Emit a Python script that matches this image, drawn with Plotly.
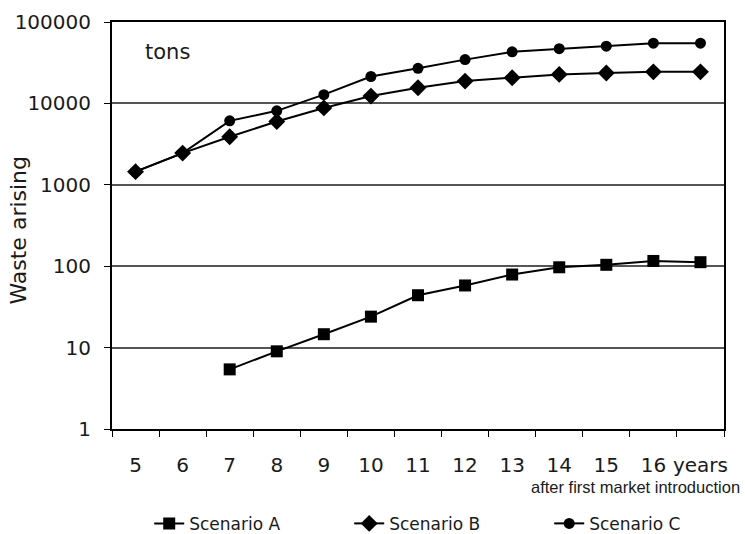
import plotly.graph_objects as go

categories = ["5", "6", "7", "8", "9", "10", "11", "12", "13", "14", "15", "16", "years"]
scenario_a_x = ["7", "8", "9", "10", "11", "12", "13", "14", "15", "16", "years"]
scenario_a = [5.4, 9, 14.6, 24, 44, 58, 79, 97, 104, 116, 112]
scenario_b = [1450, 2450, 3900, 6000, 8800, 12300, 15600, 18800, 20700, 22700, 23600, 24400, 24400]
scenario_c = [1450, 2450, 6100, 8100, 12800, 21400, 27000, 34500, 43000, 47000, 50500, 55000, 55000]
y_ticks = [1, 10, 100, 1000, 10000, 100000]
y_tick_text = ["1", "10", "100", "1000", "10000", "100000"]

font = "DejaVu Sans, Verdana, sans-serif"
fig = go.Figure()
fig.add_trace(go.Scatter(x=scenario_a_x, y=scenario_a, name="Scenario A", mode="lines+markers",
                         line=dict(color="black", width=2),
                         marker=dict(symbol="square", size=12, color="black")))
fig.add_trace(go.Scatter(x=categories, y=scenario_b, name="Scenario B", mode="lines+markers",
                         line=dict(color="black", width=2),
                         marker=dict(symbol="diamond", size=13, color="black")))
fig.add_trace(go.Scatter(x=categories, y=scenario_c, name="Scenario C", mode="lines+markers",
                         line=dict(color="black", width=2),
                         marker=dict(symbol="circle", size=11, color="black")))

fig.update_layout(
    width=745, height=534,
    margin=dict(l=112, r=21, t=22, b=105, autoexpand=False),
    paper_bgcolor="white", plot_bgcolor="white",
    font=dict(family=font, color="#1a1a1a", size=18),
    showlegend=True,
    legend=dict(orientation="h", x=0.551, xanchor="center", y=-0.233, yanchor="middle",
                font=dict(size=17, family=font), entrywidth=155, entrywidthmode="pixels",
                traceorder="normal"),
    annotations=[
        dict(text="tons", x=0.05, y=0.926, xref="paper", yref="paper", xanchor="left",
             yanchor="middle", showarrow=False, font=dict(size=21, family=font)),
        dict(text="after first market introduction", x=1.029, y=-0.143, xref="paper",
             yref="paper", xanchor="right", yanchor="middle", showarrow=False,
             font=dict(size=16.5, family="Liberation Sans, sans-serif")),
        dict(text="Waste arising", x=-0.152, y=0.49, xref="paper", yref="paper",
             xanchor="center", yanchor="middle", textangle=-90, showarrow=False,
             font=dict(size=22, family=font)),
    ],
)
fig.update_xaxes(type="category", categoryorder="array", categoryarray=categories,
                 range=[-0.5, 12.5], tickson="boundaries", ticks="outside", ticklen=6,
                 tickcolor="black", showline=True, linecolor="black", linewidth=2,
                 mirror=True, showgrid=False, tickangle=0, automargin=False,
                 ticklabelstandoff=17, tickfont=dict(size=20, family=font))
fig.update_yaxes(type="log", range=[0, 5], tickvals=y_ticks, ticktext=y_tick_text,
                 ticks="outside", ticklen=6, tickcolor="black", showline=True,
                 linecolor="black", linewidth=2, mirror=True, showgrid=True,
                 gridcolor="#555555", gridwidth=1.5, automargin=False,
                 ticklabelstandoff=9, tickfont=dict(size=20, family=font))

fig.write_html("out.html", config={"displayModeBar": False},
               post_script="document.body.style.margin='0';")
